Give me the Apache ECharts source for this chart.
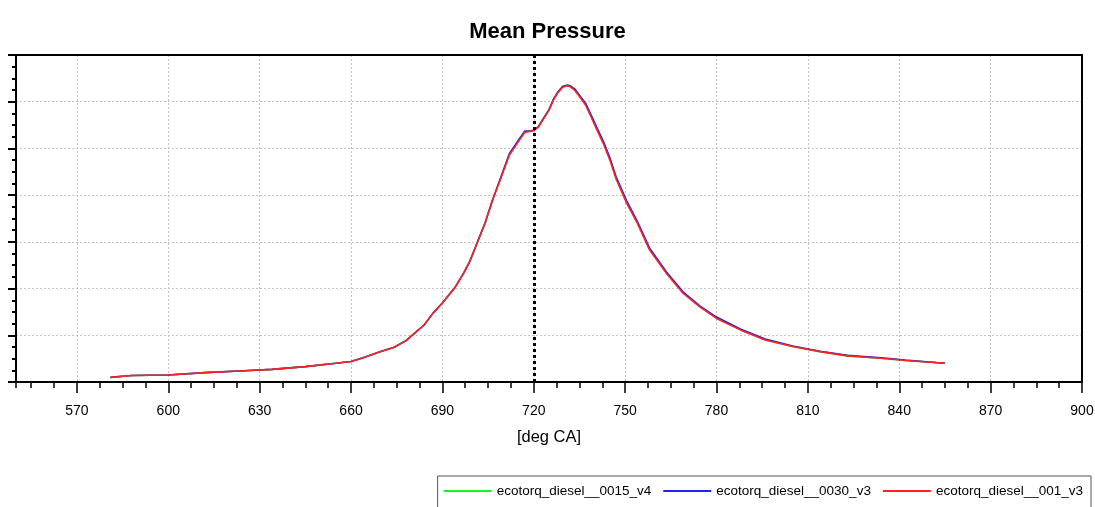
<!DOCTYPE html>
<html>
<head>
<meta charset="utf-8">
<script src="https://cdn.jsdelivr.net/npm/echarts@6/dist/echarts.min.js"></script>
<style>
  html, body { margin: 0; padding: 0; background: #fff; }
  #chart { width: 1095px; height: 507px; }
</style>
</head>
<body>
<div id="chart"></div>
<script>
// ---- data ----
const titleText = 'Mean Pressure';
const xAxisName = '[deg CA]';
const seriesNames = ['ecotorq_diesel__0015_v4', 'ecotorq_diesel__0030_v3', 'ecotorq_diesel__001_v3'];
const xTickLabels = [570, 600, 630, 660, 690, 720, 750, 780, 810, 840, 870, 900];
const tdcAngle = 720;

const angles = [581, 588, 600, 612, 625, 634, 645, 655, 660, 664, 670, 674, 678, 681, 684, 687, 690, 694, 697, 699, 701.5, 704, 706.5, 709, 712, 715, 717, 719, 720, 721.5, 723, 725, 726.5, 728, 729.5, 731, 732, 733.5, 735, 737, 738.5, 740.5, 743, 745, 747, 750.5, 754, 758, 763.5, 769, 774.5, 780, 788, 796, 805, 814, 823, 834, 842, 855];

const pressure0015 = [1.0, 1.4, 1.5, 2.0, 2.4, 2.7, 3.3, 4.0, 4.4, 5.2, 6.6, 7.4, 8.9, 10.5, 12.2, 14.8, 16.9, 20.1, 23.4, 25.9, 30.0, 34.1, 39.0, 43.4, 48.7, 51.6, 53.5, 53.8, 53.9, 54.7, 56.3, 58.3, 60.5, 62.1, 63.2, 63.6, 63.4, 62.6, 61.3, 59.5, 57.4, 54.5, 51.0, 47.7, 43.7, 38.4, 34.1, 28.4, 23.4, 19.1, 16.2, 13.7, 11.2, 9.0, 7.6, 6.5, 5.6, 5.1, 4.6, 4.0];
const pressure0030 = [1.0, 1.4, 1.5, 2.0, 2.4, 2.7, 3.3, 4.0, 4.4, 5.2, 6.6, 7.4, 8.8, 10.5, 12.2, 14.8, 16.9, 20.1, 23.3, 25.8, 29.9, 34.0, 39.0, 43.5, 48.9, 51.8, 53.7, 53.8, 53.9, 54.6, 56.2, 58.3, 60.6, 62.2, 63.3, 63.5, 63.4, 62.7, 61.4, 59.7, 57.6, 54.8, 51.3, 48.0, 44.0, 38.8, 34.4, 28.7, 23.6, 19.3, 16.3, 13.9, 11.3, 9.2, 7.7, 6.6, 5.7, 5.2, 4.7, 4.0];
const pressure001 = [1.0, 1.4, 1.5, 2.0, 2.4, 2.7, 3.3, 4.0, 4.4, 5.2, 6.6, 7.4, 8.8, 10.5, 12.2, 14.8, 16.9, 20.1, 23.3, 25.8, 29.9, 34.0, 39.0, 43.3, 48.6, 51.5, 53.4, 53.7, 53.8, 54.5, 56.1, 58.2, 60.4, 62.0, 63.1, 63.4, 63.2, 62.4, 61.1, 59.3, 57.2, 54.3, 50.8, 47.5, 43.5, 38.3, 34.0, 28.3, 23.3, 19.0, 16.1, 13.6, 11.1, 9.0, 7.6, 6.5, 5.6, 5.1, 4.6, 4.0];

const seriesValues = [pressure0015, pressure0030, pressure001];
const seriesColors = ['#22ee22', '#2222ee', '#ff2222'];

// ---- chart ----
const FONT = '"Liberation Sans", Arial, sans-serif';
const chart = echarts.init(document.getElementById('chart'), null, { renderer: 'canvas' });

const GRID_TOP = 55, GRID_BOTTOM = 125;
const gridHeight = 507 - GRID_TOP - GRID_BOTTOM;

const series = seriesNames.map((name, k) => {
  const s = {
    name: name,
    type: 'line',
    xAxisIndex: 0,
    yAxisIndex: 0,
    symbol: 'none',
    showSymbol: false,
    animation: false,
    lineStyle: { color: seriesColors[k], width: 1.6 },
    itemStyle: { color: seriesColors[k] },
    data: angles.map((a, i) => [a, seriesValues[k][i]]),
    z: 2 + k
  };
  if (k === seriesNames.length - 1) {
    s.markLine = {
      silent: true,
      symbol: ['none', 'none'],
      label: { show: false },
      lineStyle: { color: '#000', type: [3, 3], width: 3 },
      data: [{ xAxis: tdcAngle }],
      animation: false
    };
  }
  return s;
});

const option = {
  backgroundColor: '#fff',
  animation: false,
  title: {
    text: titleText,
    left: 'center',
    top: 16,
    textStyle: { fontFamily: FONT, fontWeight: 'bold', fontSize: 22, color: '#000' }
  },
  legend: {
    data: seriesNames,
    right: 4,
    top: 476,
    orient: 'horizontal',
    icon: 'rect',
    itemWidth: 48,
    itemHeight: 2,
    itemGap: 12,
    padding: [8, 8, 14, 6],
    backgroundColor: '#fff',
    borderColor: '#555',
    borderWidth: 1,
    borderRadius: 0,
    textStyle: { fontFamily: FONT, fontSize: 13.5, color: '#000' }
  },
  grid: {
    left: 16,
    right: 13,
    top: GRID_TOP,
    bottom: GRID_BOTTOM,
    show: true,
    z: 10,
    borderColor: '#000',
    borderWidth: 2,
    backgroundColor: 'transparent',
    containLabel: false,
    outerBoundsMode: 'none'
  },
  xAxis: [
    {
      type: 'value',
      position: 'bottom',
      min: 550,
      max: 900,
      splitNumber: 12,
      minInterval: 30,
      maxInterval: 30,
      name: xAxisName,
      nameLocation: 'middle',
      nameGap: 47,
      nameTextStyle: { fontFamily: FONT, fontSize: 16.5, color: '#000' },
      axisLine: { show: true, onZero: false, lineStyle: { color: '#000', width: 2 } },
      axisTick: { show: true, length: 11, lineStyle: { color: '#000', width: 1.5 }, customValues: xTickLabels },
      axisLabel: { show: true, margin: 22, fontFamily: FONT, fontSize: 14, color: '#000', customValues: xTickLabels },
      splitLine: { show: true, lineStyle: { color: '#c4c4c4', type: [2, 2], width: 1 } },
      minorTick: { show: false }
    },
    {
      type: 'value',
      position: 'top',
      offset: -gridHeight,
      min: 550,
      max: 900,
      minInterval: 7.5,
      maxInterval: 7.5,
      splitNumber: 47,
      axisLine: { show: false },
      axisTick: { show: true, inside: true, length: 6, lineStyle: { color: '#000', width: 1.5 } },
      axisLabel: { show: false },
      splitLine: { show: false }
    }
  ],
  yAxis: {
    type: 'value',
    min: 0,
    max: 70,
    interval: 10,
    axisLine: { show: true, onZero: false, lineStyle: { color: '#000', width: 2 } },
    axisTick: { show: true, length: 8, lineStyle: { color: '#000', width: 2 } },
    minorTick: { show: true, splitNumber: 4, length: 4, lineStyle: { color: '#000', width: 2 } },
    axisLabel: { show: false },
    splitLine: { show: true, lineStyle: { color: '#c4c4c4', type: [2, 2], width: 1 } }
  },
  series: series
};

chart.setOption(option);
</script>
</body>
</html>
